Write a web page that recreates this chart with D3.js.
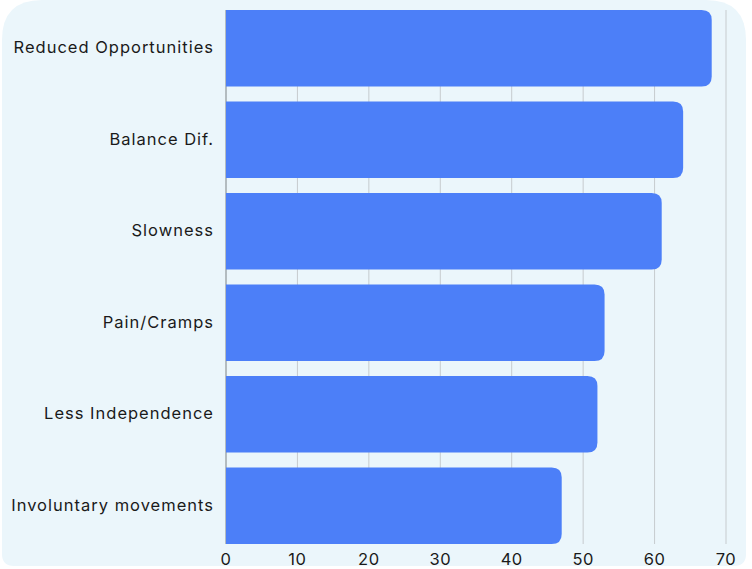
<!DOCTYPE html>
<html lang="en">
<head>
<meta charset="utf-8">
<title>Bar chart</title>
<script src="https://d3js.org/d3.v7.min.js"></script>
<style>
  body { margin: 0; background: #ffffff; }
  .labels { font-family: "Inter", sans-serif; font-size: 16.5px; letter-spacing: 1px; fill: #1a1a1a; }
  .ticks text { font-family: "Inter", sans-serif; font-size: 16.5px; letter-spacing: 0.5px; fill: #1a1a1a; }
</style>
</head>
<body>
<div id="chart"></div>
<script>
const categories = ["Reduced Opportunities", "Balance Dif.", "Slowness", "Pain/Cramps", "Less Independence", "Involuntary movements"];
const values = [68, 64, 61, 53, 52, 47];
const tickValues = [0, 10, 20, 30, 40, 50, 60, 70];

const w = 752, h = 569;
const svg = d3.select("#chart").append("svg")
  .attr("width", w).attr("height", h);

// card background: big rounded top corners, small bottom ones
const cx0 = 2, cx1 = 746, cy0 = 0, cy1 = 566, rt = 40, rb = 12;
svg.append("path")
  .attr("d", `M${cx0},${cy0 + rt} Q${cx0},${cy0} ${cx0 + rt},${cy0} L${cx1 - rt},${cy0} Q${cx1},${cy0} ${cx1},${cy0 + rt}
    L${cx1},${cy1 - rb} Q${cx1},${cy1} ${cx1 - rb},${cy1} L${cx0 + rb},${cy1} Q${cx0},${cy1} ${cx0},${cy1 - rb} Z`)
  .attr("fill", "#ebf6fb");

const x = d3.scaleLinear().domain([0, 70]).range([226, 726]);
const y = d3.scaleBand().domain(categories).range([10, 544]).paddingInner(0.164).paddingOuter(0);

// gridlines
svg.selectAll(".grid")
  .data(tickValues.slice(1))
  .enter().append("line")
  .attr("x1", d => x(d)).attr("x2", d => x(d))
  .attr("y1", 10).attr("y2", 544)
  .attr("stroke", "#c6cbce").attr("stroke-width", 1);

// axis line at zero
svg.append("line")
  .attr("x1", x(0)).attr("x2", x(0))
  .attr("y1", 10).attr("y2", 544)
  .attr("stroke", "#7d8285").attr("stroke-width", 1);

// bars with rounded right end
const r = 10;
svg.selectAll(".bar")
  .data(values)
  .enter().append("path")
  .attr("fill", "#4c7ff8")
  .attr("d", (d, i) => {
    const x0 = x(0), x1 = x(d), y0 = y(categories[i]), y1 = y0 + y.bandwidth();
    return `M${x0},${y0} L${x1 - r},${y0} Q${x1},${y0} ${x1},${y0 + r} L${x1},${y1 - r} Q${x1},${y1} ${x1 - r},${y1} L${x0},${y1} Z`;
  });

// category labels
svg.selectAll(".labels")
  .data(categories)
  .enter().append("text")
  .attr("class", "labels")
  .attr("x", 214)
  .attr("y", d => y(d) + y.bandwidth() / 2 - 1)
  .attr("dy", "0.35em")
  .attr("text-anchor", "end")
  .text(d => d);

// x tick labels
svg.append("g").attr("class", "ticks")
  .selectAll("text")
  .data(tickValues)
  .enter().append("text")
  .attr("x", d => x(d))
  .attr("y", 559)
  .attr("dy", "0.35em")
  .attr("text-anchor", "middle")
  .text(d => d);
</script>
</body>
</html>
